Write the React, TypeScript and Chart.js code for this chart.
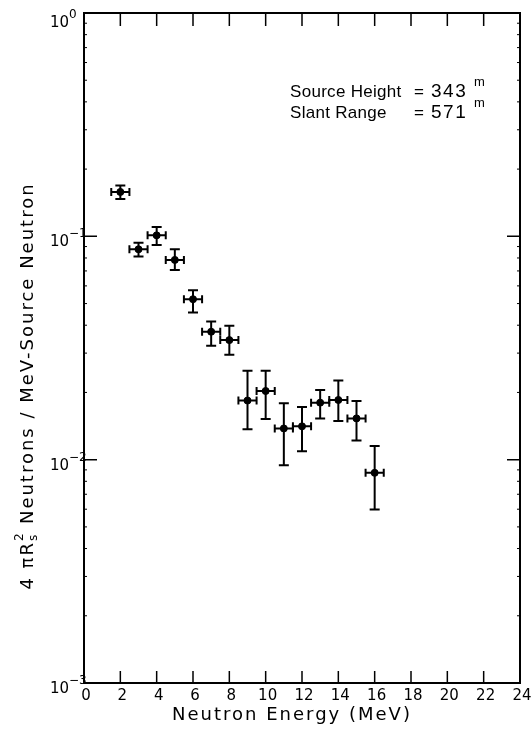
import { useEffect, useRef } from "react";
import { Chart, registerables } from "chart.js";

Chart.register(...registerables);

// Neutron energy bin centres (MeV) and their half widths
const energies = [2, 3, 4, 5, 6, 7, 8, 9, 10, 11, 12, 13, 14, 15, 16];
const energyHalfWidth = [0.5, 0.5, 0.5, 0.5, 0.5, 0.5, 0.5, 0.5, 0.5, 0.5, 0.5, 0.5, 0.5, 0.5, 0.5];

// 4πRs² neutrons / MeV per source neutron, with upper and lower error limits
const flux = [0.158, 0.0875, 0.101, 0.0784, 0.0523, 0.0374, 0.0343, 0.0184, 0.0203, 0.0138, 0.0141, 0.018, 0.0185, 0.0153, 0.00873];
const fluxHigh = [0.169, 0.0937, 0.11, 0.0875, 0.0574, 0.0416, 0.0398, 0.025, 0.025, 0.0179, 0.0172, 0.0205, 0.0226, 0.0183, 0.0115];
const fluxLow = [0.147, 0.0812, 0.0915, 0.0707, 0.0456, 0.0324, 0.0295, 0.0137, 0.0152, 0.00944, 0.0109, 0.0153, 0.0149, 0.0122, 0.00598];

// Axis ticks
const xTicks = [0, 2, 4, 6, 8, 10, 12, 14, 16, 18, 20, 22, 24];
const yExponents = [0, -1, -2, -3];
const yMinorMultipliers = [2, 3, 4, 5, 6, 7, 8, 9];

// Annotation lines: label, value, unit
const noteLabels = ["Source Height", "Slant Range"];
const noteValues = ["343", "571"];
const noteUnits = ["m", "m"];

const FONT = '"DejaVu Sans", "Liberation Sans", sans-serif';
const NOTE_FONT = '"Liberation Sans", "DejaVu Sans", sans-serif';

const drawing = {
  id: "drawing",
  afterDatasetsDraw(chart: any) {
    const { ctx, chartArea: a, scales } = chart;
    const xs = scales.x;
    const ys = scales.y;
    ctx.save();
    ctx.strokeStyle = "#000";
    ctx.fillStyle = "#000";
    ctx.lineCap = "butt";

    // error bars
    ctx.lineWidth = 2;
    energies.forEach((e, i) => {
      const px = xs.getPixelForValue(e);
      const py = ys.getPixelForValue(flux[i]);
      const top = ys.getPixelForValue(fluxHigh[i]);
      const bot = ys.getPixelForValue(fluxLow[i]);
      const l = xs.getPixelForValue(e - energyHalfWidth[i]);
      const r = xs.getPixelForValue(e + energyHalfWidth[i]);
      ctx.beginPath();
      ctx.moveTo(px, top);
      ctx.lineTo(px, bot);
      ctx.moveTo(px - 5, top);
      ctx.lineTo(px + 5, top);
      ctx.moveTo(px - 5, bot);
      ctx.lineTo(px + 5, bot);
      ctx.moveTo(l, py);
      ctx.lineTo(r, py);
      ctx.moveTo(l, py - 4);
      ctx.lineTo(l, py + 4);
      ctx.moveTo(r, py - 4);
      ctx.lineTo(r, py + 4);
      ctx.stroke();
    });

    // frame
    ctx.lineWidth = 2;
    ctx.strokeRect(a.left, a.top, a.right - a.left, a.bottom - a.top);

    // x ticks, bottom and top, pointing inwards
    ctx.lineWidth = 1.5;
    ctx.beginPath();
    xTicks.forEach((t) => {
      const px = xs.getPixelForValue(t);
      ctx.moveTo(px, a.bottom);
      ctx.lineTo(px, a.bottom - 12);
      ctx.moveTo(px, a.top);
      ctx.lineTo(px, a.top + 13);
    });
    // y decade ticks, left and right
    yExponents.forEach((p) => {
      const py = ys.getPixelForValue(Math.pow(10, p));
      ctx.moveTo(a.left, py);
      ctx.lineTo(a.left + 13, py);
      ctx.moveTo(a.right, py);
      ctx.lineTo(a.right - 13, py);
    });
    ctx.stroke();
    // y minor ticks
    ctx.lineWidth = 1;
    ctx.beginPath();
    yExponents.slice(1).forEach((p) => {
      yMinorMultipliers.forEach((m) => {
        const py = ys.getPixelForValue(m * Math.pow(10, p));
        ctx.moveTo(a.left, py);
        ctx.lineTo(a.left + 3, py);
        ctx.moveTo(a.right, py);
        ctx.lineTo(a.right - 3, py);
      });
    });
    ctx.stroke();

    // x tick labels
    ctx.font = `15px ${FONT}`;
    ctx.textAlign = "center";
    ctx.textBaseline = "alphabetic";
    (ctx as any).letterSpacing = "0px";
    xTicks.forEach((t) => {
      ctx.fillText(String(t), xs.getPixelForValue(t) + 2, 700);
    });

    // y tick labels as powers of ten
    yExponents.forEach((p) => {
      const py = ys.getPixelForValue(Math.pow(10, p));
      const drop = p === 0 ? 14 : 10;
      ctx.textAlign = "left";
      ctx.font = `15px ${FONT}`;
      ctx.fillText("10", 50, py + drop);
      ctx.font = `12px ${FONT}`;
      ctx.fillText(p === 0 ? "0" : "\u2212" + String(-p), 69, py + drop - 9);
    });

    // x axis title
    ctx.font = `18px ${FONT}`;
    (ctx as any).letterSpacing = "2px";
    ctx.textAlign = "center";
    ctx.fillText("Neutron Energy (MeV)", 292, 720);

    // y axis title, rotated
    ctx.save();
    ctx.translate(33, 386);
    ctx.rotate(-Math.PI / 2);
    ctx.textAlign = "left";
    (ctx as any).letterSpacing = "2px";
    const big = `18px ${FONT}`;
    const small = `12px ${FONT}`;
    const head = "4 \u03c0R";
    const tail = " Neutrons / MeV-Source Neutron";
    ctx.font = big;
    const wHead = ctx.measureText(head).width;
    const wTail = ctx.measureText(tail).width;
    ctx.font = small;
    const wSub = ctx.measureText("s").width;
    const total = wHead + wSub + 1 + wTail;
    let cx = -total / 2;
    ctx.font = big;
    ctx.fillText(head, cx, 0);
    cx += wHead;
    ctx.font = small;
    ctx.fillText("s", cx, 4);
    ctx.fillText("2", cx, -10);
    cx += wSub + 1;
    ctx.font = big;
    ctx.fillText(tail, cx, 0);
    ctx.restore();

    // annotation
    ctx.textAlign = "left";
    noteLabels.forEach((label, i) => {
      const base = 97 + i * 21;
      ctx.font = `17px ${NOTE_FONT}`;
      (ctx as any).letterSpacing = "0.3px";
      ctx.fillText(label, 290, base);
      ctx.fillText("=", 414, base);
      (ctx as any).letterSpacing = "1.5px";
      ctx.font = `19px ${NOTE_FONT}`;
      ctx.fillText(noteValues[i], 431, base);
      ctx.font = `13px ${NOTE_FONT}`;
      (ctx as any).letterSpacing = "0px";
      ctx.fillText(noteUnits[i], 474, base - 11);
    });

    ctx.restore();
  },
};

export default function App() {
  const ref = useRef<HTMLCanvasElement | null>(null);

  useEffect(() => {
    document.body.style.margin = "0";
    const canvas = ref.current;
    if (!canvas) return;
    const chart = new Chart(canvas, {
      type: "scatter",
      data: {
        datasets: [
          {
            data: energies.map((e, i) => ({ x: e, y: flux[i] })),
            backgroundColor: "#000",
            borderColor: "#000",
            pointRadius: 3.5,
            pointHoverRadius: 3.5,
          },
        ],
      },
      options: {
        responsive: false,
        animation: false,
        events: [],
        layout: { padding: { left: 84, top: 13, right: 12, bottom: 56 } },
        plugins: { legend: { display: false }, tooltip: { enabled: false } },
        scales: {
          x: { type: "linear", min: 0, max: 24, display: false },
          y: { type: "logarithmic", min: 0.001, max: 1, display: false },
        },
      },
      plugins: [drawing],
    });
    return () => chart.destroy();
  }, []);

  return (
    <div style={{ width: 532, height: 739, background: "#fff" }}>
      <canvas ref={ref} width={532} height={739} style={{ display: "block" }} />
    </div>
  );
}
